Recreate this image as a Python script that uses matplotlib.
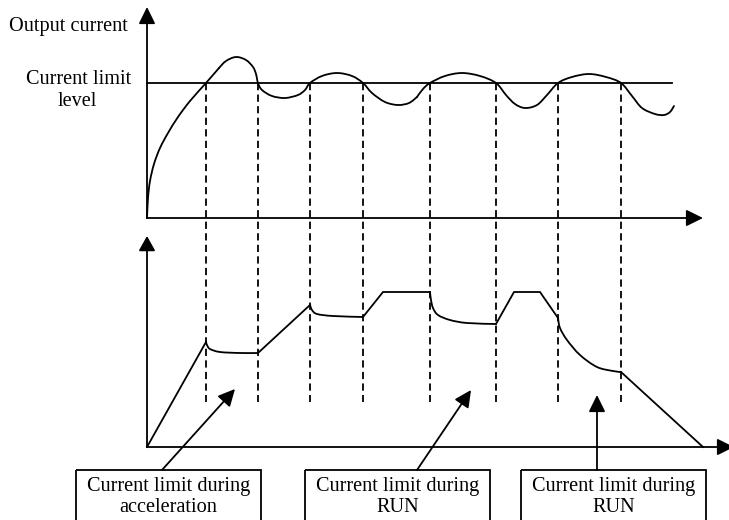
import numpy as np
import matplotlib
matplotlib.use("Agg")
import matplotlib.pyplot as plt
from matplotlib.path import Path
from matplotlib.patches import PathPatch, Rectangle

# ---------------- data (diagram coordinates, y grows downward) ----------------
limit_level_y = 83
dash_x = [206, 258, 310, 363, 430, 496, 558, 621]
dash_y = [83, 402]

# output current, rising part (up to first kink)
rise_x = [147, 148, 150, 154, 160, 168, 178, 190, 206, 219]
rise_y = [218, 198, 181, 164, 148, 133, 117, 101, 83, 68]
# oscillation part 1 (kink to kink)
osc1_x = [219, 226, 236, 246, 253, 256, 258, 262, 272, 285, 298, 305, 310, 322, 337, 352, 363, 372, 385, 398, 409, 417]
osc1_y = [68, 61, 57, 60, 67, 74, 83, 90, 96, 98, 95, 90, 83, 76, 73, 76, 83, 93, 102, 105, 103, 97]
# oscillation part 2
osc2_x = [417, 423, 430, 445, 462, 480, 496, 506, 515, 525, 537, 547, 558, 572, 589, 606, 621, 632, 642, 655, 664, 670, 674]
osc2_y = [97, 89, 83, 76, 73, 76, 83, 95, 104, 108, 105, 95, 83, 77, 74, 77, 83, 96, 108, 114, 115, 112, 106]

# frequency curve: straight parts
freq_lines = [
    ([147, 206], [447, 342]),
    ([258, 310], [353, 305]),
    ([363, 383, 430], [317, 292, 292]),
    ([496, 514, 540, 558], [324, 292, 292, 318]),
    ([621, 703], [372, 447]),
]
# frequency curve: curved parts (current-limit action)
freq_curves = [
    ([206, 207, 210, 220, 240, 258], [342, 345, 349, 352, 353, 353]),
    ([310, 312, 317, 333, 363], [305, 310, 314, 316, 317]),
    ([430, 431, 433, 438, 450, 467, 496], [292, 300, 308, 315, 320, 323, 324]),
    ([558, 560, 567, 580, 597, 613, 621], [318, 328, 340, 355, 367, 371, 372]),
]

box_left = [76, 305, 521]
box_right = [261, 490, 706]
box_line1 = ["Current limit during", "Current limit during", "Current limit during"]
box_line2 = ["acceleration", "RUN", "RUN"]
arrow_start = [(162, 470), (417, 470), (597, 470)]
arrow_end = [(235, 389), (471, 390), (597, 395)]

# ---------------- drawing ----------------
W, H = 729, 520
fig = plt.figure(figsize=(W / 100, H / 100), dpi=100)
ax = fig.add_axes([0, 0, 1, 1])
ax.set_xlim(0, W)
ax.set_ylim(H, 0)
ax.axis("off")

LW = 1.3
FONT = "Liberation Serif"
FS = 14.6


def smooth(xs, ys, **kw):
    P = np.column_stack([xs, ys]).astype(float)
    n = len(P)
    verts = [P[0]]
    codes = [Path.MOVETO]
    for i in range(n - 1):
        p0 = P[i - 1] if i > 0 else P[i]
        p1 = P[i]
        p2 = P[i + 1]
        p3 = P[i + 2] if i + 2 < n else P[i + 1]
        c1 = p1 + (p2 - p0) / 6.0
        c2 = p2 - (p3 - p1) / 6.0
        verts += [c1, c2, p2]
        codes += [Path.CURVE4] * 3
    ax.add_patch(PathPatch(Path(verts, codes), fill=False, lw=LW, ec="black",
                           capstyle="round", joinstyle="round", **kw))


def arrow(x0, y0, x1, y1, hl=0.85, hw=0.42):
    ax.annotate("", xy=(x1, y1), xytext=(x0, y0), annotation_clip=False,
                arrowprops=dict(arrowstyle=f"-|>,head_length={hl},head_width={hw}",
                                lw=LW, color="black", fc="black",
                                mutation_scale=12, shrinkA=0, shrinkB=0))


# axes of upper plot
arrow(147, 218, 147, 7)
arrow(147, 218, 703, 218)
# axes of lower plot
arrow(147, 447, 147, 236, hl=0.75)
arrow(147, 447, 734, 447)

# current limit level
ax.plot([147, 672], [limit_level_y, limit_level_y], color="black", lw=LW)

# dashed guide lines
for x in dash_x:
    ax.plot([x, x], dash_y, color="black", lw=LW, dashes=(4, 2.4))

# output current curve
smooth(rise_x, rise_y)
smooth(osc1_x, osc1_y)
smooth(osc2_x, osc2_y)

# frequency curve
for xs, ys in freq_lines:
    ax.plot(xs, ys, color="black", lw=LW, solid_joinstyle="miter")
for xs, ys in freq_curves:
    smooth(xs, ys)

# text labels
ax.text(9, 27, "Output current", family=FONT, fontsize=FS, ha="left", va="center")
ax.text(79, 80, "Current limit", family=FONT, fontsize=FS, ha="center", va="center")
ax.text(77, 101, "level", family=FONT, fontsize=FS, ha="center", va="center")

# boxes with captions and arrows
for l, r, t1, t2, s, e in zip(box_left, box_right, box_line1, box_line2, arrow_start, arrow_end):
    ax.add_patch(Rectangle((l, 470), r - l, 60, fill=False, lw=LW, ec="black"))
    cx = (l + r) / 2
    ax.text(cx, 487, t1, family=FONT, fontsize=FS, ha="center", va="center")
    ax.text(cx, 508, t2, family=FONT, fontsize=FS, ha="center", va="center")
    arrow(s[0], s[1], e[0], e[1])

fig.savefig("out.png", dpi=100)
